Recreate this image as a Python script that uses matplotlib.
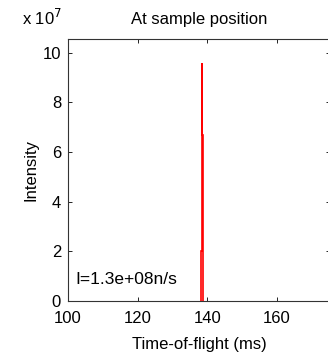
import matplotlib
matplotlib.use("Agg")
import matplotlib.pyplot as plt
import numpy as np

plt.rcParams['font.family'] = ['Liberation Sans', 'DejaVu Sans']

# histogram around the peak (intensity in units of 1e7)
edges = [138.1, 138.6, 138.65, 138.7]
counts = [2.0, 9.6, 6.7]
xticks = [100, 120, 140, 160]
yticks = [0, 2, 4, 6, 8, 10]

fig = plt.figure(figsize=(3.28, 3.55), dpi=100)
ax = fig.add_axes([68/328, 54/355, 262/328, 262/355])

ax.stairs(counts, edges, color='red', linewidth=1.2, baseline=0)

ax.set_xlim(100, 175.3)
ax.set_ylim(0, 10.55)
ax.set_xticks(xticks)
ax.set_yticks(yticks)
ax.tick_params(direction='in', length=3, top=True, right=True, labelsize=12, width=0.6)
ax.tick_params(axis='x', pad=7)
ax.tick_params(axis='y', pad=5)
for s in ax.spines.values():
    s.set_linewidth(0.8)
    s.set_color('#333333')

ax.set_xlabel('Time-of-flight (ms)', fontsize=12, labelpad=8)
ax.set_ylabel('Intensity', fontsize=12, labelpad=3)
ax.set_title('At sample position', fontsize=12, pad=11)
fig.text(22/328, 1 - 25/355, r'x 10$^7$', fontsize=12, ha='left', va='baseline')
ax.text(102, 0.85, 'I=1.3e+08n/s', fontsize=12.5, va='center')

fig.savefig('out.png', dpi=100)
